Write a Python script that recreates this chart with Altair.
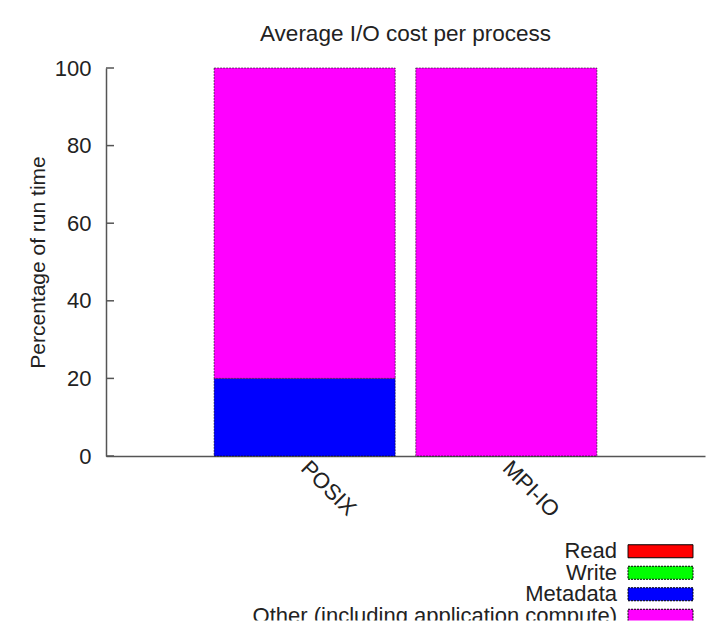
import altair as alt
import pandas as pd

# ---- data ----
processes = ["POSIX", "MPI-IO"]
series = ["Read", "Write", "Metadata", "Other (including application compute)"]
read_pct = [0, 0]
write_pct = [0, 0]
metadata_pct = [20, 0]
other_pct = [80, 100]
y_ticks = [0, 20, 40, 60, 80, 100]

colors = ["#ff0000", "#00ff00", "#0000ff", "#ff00ff"]
dashes = [[1, 0], [2, 1], [2, 1], [2, 1]]
FONT = "Liberation Sans"

rows = []
for s_i, (name, vals) in enumerate(zip(series, [read_pct, write_pct, metadata_pct, other_pct])):
    for p, v in zip(processes, vals):
        rows.append({"process": p, "series": name, "value": v, "order": s_i})
df = pd.DataFrame(rows)

color_scale = alt.Scale(domain=series, range=colors)
dash_scale = alt.Scale(domain=series, range=dashes)

bars = alt.Chart(df).transform_filter("datum.value > 0").mark_bar(
    stroke="black", strokeWidth=1, strokeOpacity=0.55
).encode(
    x=alt.X("process:N", sort=processes, title=None,
            scale=alt.Scale(paddingInner=0.102, paddingOuter=0.536),
            axis=alt.Axis(labelAngle=45, labelAlign="left", labelBaseline="middle",
                          labelPadding=8, ticks=False, labelFontSize=22,
                          labelFont=FONT, labelColor="#222",
                          domainColor="#555", domainWidth=1.5)),
    y=alt.Y("value:Q", stack="zero", title="Percentage of run time",
            scale=alt.Scale(domain=[0, 100], nice=False),
            axis=alt.Axis(values=y_ticks, grid=False, tickSize=0, labelPadding=15,
                          labelFontSize=22, labelFont=FONT, labelColor="#222",
                          titleFontSize=21, titleFont=FONT, titleColor="#222",
                          titleFontWeight="normal", titlePadding=6,
                          domainColor="#555", domainWidth=1.5)),
    color=alt.Color("series:N", scale=color_scale, legend=None),
    strokeDash=alt.StrokeDash("series:N", scale=dash_scale, legend=None),
    order=alt.Order("order:Q", sort="ascending"),
)

ticks_df = pd.DataFrame({"t": y_ticks})
inner_ticks = alt.Chart(ticks_df).mark_rule(color="#555", strokeWidth=1.5).encode(
    y=alt.Y("t:Q"),
    x=alt.value(0),
    x2=alt.value(8),
)

main = alt.layer(bars, inner_ticks).properties(
    width=599, height=388,
    title=alt.TitleParams("Average I/O cost per process", fontSize=22.5, font=FONT,
                          fontWeight="normal", color="#222", offset=12),
)

leg_df = pd.DataFrame({"series": series, "order": list(range(len(series)))})
leg_y = alt.Y("series:N", sort=series, axis=None,
              scale=alt.Scale(range=[0, 86], paddingInner=0, paddingOuter=0))
leg_text = alt.Chart(leg_df).mark_text(
    align="right", baseline="middle", fontSize=22, font=FONT, color="#222", clip=True
).encode(y=leg_y, x=alt.value(511), text="series:N")
leg_box = alt.Chart(leg_df).mark_bar(size=13, stroke="black", strokeWidth=1, clip=True).encode(
    y=leg_y, x=alt.value(522), x2=alt.value(587),
    color=alt.Color("series:N", scale=color_scale, legend=None),
    strokeDash=alt.StrokeDash("series:N", scale=dash_scale, legend=None),
)
legend = alt.layer(leg_text, leg_box).properties(width=599, height=80)

chart = alt.vconcat(main, legend, spacing=18.5).properties(
    padding={"left": 19, "top": 14, "right": 5, "bottom": 0}
).configure_view(stroke=None)

chart.save("out.html", embed_options={"renderer": "svg", "actions": False})
